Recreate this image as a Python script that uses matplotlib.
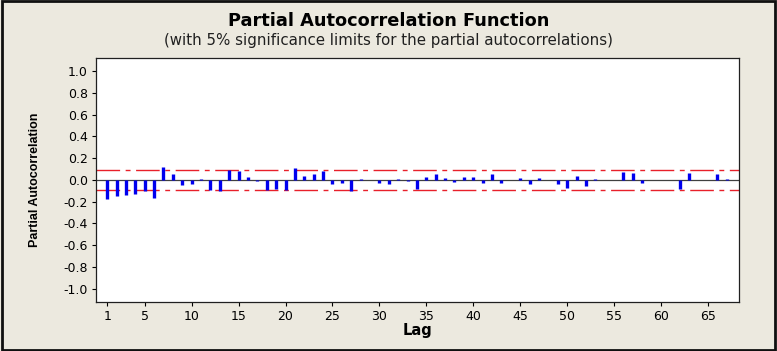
import numpy as np
import matplotlib
matplotlib.use("Agg")
import matplotlib.pyplot as plt

# Lags y valores de autocorrelación parcial
lags = list(range(1, 68))
pacf = [
    -0.18, -0.15, -0.14, -0.13, -0.10, -0.165, 0.12, 0.05, -0.05, -0.035,
    0.01, -0.09, -0.10, 0.09, 0.08, 0.03, -0.01, -0.09, -0.085, -0.09,
    0.11, 0.035, 0.05, 0.08, -0.04, -0.03, -0.10, 0.01, 0.0, -0.03,
    -0.04, 0.01, -0.01, -0.08, 0.025, 0.055, 0.015, -0.015, 0.025, 0.025,
    -0.025, 0.055, -0.025, 0.0, 0.02, -0.04, 0.02, 0.0, -0.04, -0.075,
    0.035, -0.055, 0.005, 0.0, 0.0, 0.075, 0.06, -0.025, -0.005, -0.005,
    0.0, -0.085, 0.06, 0.0, 0.0, 0.055, 0.005,
]
sig_limit = 0.092
xticks = [1, 5, 10, 15, 20, 25, 30, 35, 40, 45, 50, 55, 60, 65]
yticks = [1.0, 0.8, 0.6, 0.4, 0.2, 0.0, -0.2, -0.4, -0.6, -0.8, -1.0]

bg = "#ECE9DF"
fig = plt.figure(figsize=(7.77, 3.51), dpi=100, facecolor=bg)
ax = fig.add_axes([0.124, 0.140, 0.827, 0.695])
ax.set_facecolor("white")

# Línea de cero y límites de significancia
ax.axhline(0, color="#404040", linewidth=0.9, zorder=1)
for s in (sig_limit, -sig_limit):
    ax.plot([-0.15, 68.3], [s, s], color="#E8202A", linewidth=1.0,
            dashes=[17, 4, 3.5, 4], zorder=1)

# Barras verticales de la PACF
ax.vlines(lags, 0, pacf, color="#0000EE", linewidth=2.4, zorder=2)

ax.set_xlim(-0.15, 68.3)
ax.set_ylim(-1.12, 1.12)
ax.set_xticks(xticks)
ax.set_yticks(yticks)
ax.set_yticklabels([f"{v:.1f}" for v in yticks])
ax.tick_params(axis="both", direction="out", length=3, width=0.8,
               labelsize=9, pad=3)
for sp in ax.spines.values():
    sp.set_linewidth(0.9)
    sp.set_color("#202020")

ax.set_xlabel("Lag", fontsize=10.5, fontweight="bold", labelpad=0)
ax.set_ylabel("Partial Autocorrelation", fontsize=9, fontweight="bold",
              family=["Liberation Sans Narrow", "Liberation Sans"], labelpad=16)

fig.text(0.5, 0.925, "Partial Autocorrelation Function", ha="center",
         fontsize=12.8, fontweight="bold")
fig.text(0.5, 0.872, "(with 5% significance limits for the partial autocorrelations)",
         ha="center", fontsize=10.8, color="#202020")

# Marco exterior oscuro
fig.patches.append(plt.Rectangle((0.002, 0.004), 0.996, 0.992, transform=fig.transFigure,
                                 fill=False, edgecolor="#101010", linewidth=2.0))

fig.savefig("out.png", dpi=100, facecolor=bg)
